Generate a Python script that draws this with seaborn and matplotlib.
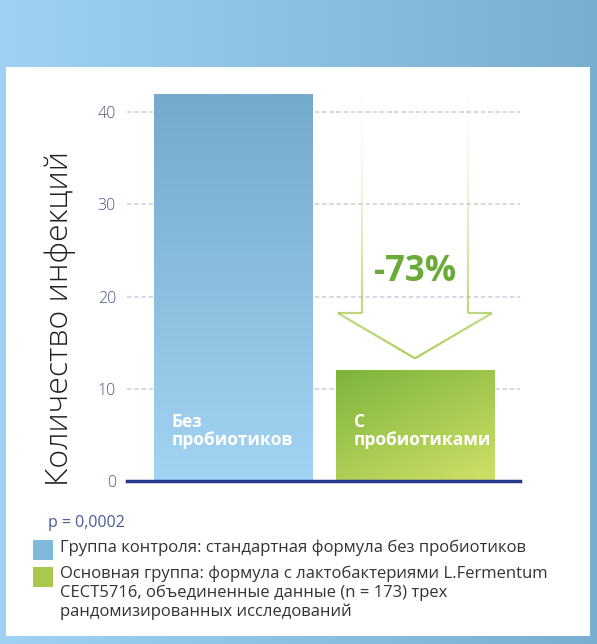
"""Infection count: control vs probiotic formula."""

import matplotlib.pyplot as plt
import numpy as np
import pandas as pd
import seaborn as sns
from matplotlib.colors import LinearSegmentedColormap
from matplotlib.patches import Rectangle

groups = ["Без\nпробиотиков", "С\nпробиотиками"]
infections = [42, 12]
reduction_label = "-73%"
y_ticks = [0, 10, 20, 30, 40]
y_label = "Количество инфекций"
p_value_text = "p = 0,0002"
legend_texts = [
    "Группа контроля: стандартная формула без пробиотиков",
    "Основная группа: формула с лактобактериями L.Fermentum\n"
    "CECT5716, объединенные данные (n = 173) трех\n"
    "рандомизированных исследований",
]
legend_colors = ["#7fb9dc", "#a9c94c"]

BAR_GRADIENTS = [("#74aacb", "#a3d3f2"), ("#7db43c", "#cfe067")]
FONT = ["Open Sans", "DejaVu Sans"]


def gradient_fill(ax, patch, top, bottom, diagonal=False):
    x0, y0 = patch.get_x(), patch.get_y()
    w, h = patch.get_width(), patch.get_height()
    cmap = LinearSegmentedColormap.from_list("g", [top, bottom])
    yy, xx = np.mgrid[0:1:100j, 0:1:100j]
    grad = yy if not diagonal else 0.6 * yy + 0.4 * xx
    img = ax.imshow(grad, cmap=cmap, extent=(x0, x0 + w, y0, y0 + h),
                    aspect="auto", origin="upper", zorder=2)
    img.set_clip_path(patch)


def main():
    sns.set_theme(style="white")
    plt.rcParams["font.family"] = FONT

    fig = plt.figure(figsize=(5.97, 6.44), dpi=100)

    # blue frame and white panel
    bg = fig.add_axes([0, 0, 1, 1])
    bg.imshow(np.linspace(0, 1, 256)[None, :],
              cmap=LinearSegmentedColormap.from_list("bg", ["#9fd2f2", "#78afd0"]),
              extent=(0, 1, 0, 1), aspect="auto")
    bg.add_patch(Rectangle((6 / 597, 8 / 644), 584 / 597, 569 / 644,
                           facecolor="white", edgecolor="none"))
    bg.set_xlim(0, 1)
    bg.set_ylim(0, 1)
    bg.axis("off")

    ax = fig.add_axes([127 / 597, 163 / 644, 393 / 597, 415 / 644])
    df = pd.DataFrame({"group": groups, "count": infections})
    sns.barplot(data=df, x="group", y="count", ax=ax, width=0.87,
                color="#8cc0e0", saturation=1, zorder=2)

    for patch, (top, bottom), diag in zip(ax.patches, BAR_GRADIENTS, [False, True]):
        gradient_fill(ax, patch, top, bottom, diagonal=diag)
        patch.set_alpha(0)

    for i, label in enumerate(groups):
        ax.text(i - 0.335, 5.4, label, color="white", fontsize=12.5,
                fontweight="bold", ha="left", va="center", linespacing=1.0,
                zorder=4)

    # arrow outline, fading to the top
    c = 1
    tip = infections[1] + 1.3
    head = tip + 4.9
    top = infections[0] - 0.2
    pts = np.array([
        [c - 0.29, top], [c - 0.29, head], [c - 0.423, head], [c, tip],
        [c + 0.423, head], [c + 0.29, head], [c + 0.29, top],
    ])
    for a, b in zip(pts[:-1], pts[1:]):
        seg = np.linspace(a, b, 60)
        for s0, s1 in zip(seg[:-1], seg[1:]):
            frac = (s0[1] - tip) / (top - tip)
            alpha = max(0.04, (1 - frac) ** 1.6)
            ax.plot([s0[0], s1[0]], [s0[1], s1[1]], color="#a3cc4e",
                    alpha=alpha, lw=1.6, solid_capstyle="butt", zorder=3)

    ax.text(c, 22.7, reduction_label, color="#6aab38", fontsize=25,
            fontweight="bold", ha="center", va="center", zorder=4)

    ax.set_xlim(-0.582, 1.577)
    ax.set_ylim(0, 45)
    ax.set_yticks(y_ticks)
    ax.set_yticklabels([str(t) for t in y_ticks], color="#4a5580", fontsize=11.5,
                       fontweight="light")
    ax.tick_params(axis="y", length=0, pad=8)
    ax.set_xticks([])
    ax.set_xlabel("")
    ax.set_ylabel("")
    for t in y_ticks[1:]:
        ax.axhline(t, color="#d0d6e2", lw=1.3, ls=(0, (2.5, 1.5)), zorder=1)
    for side in ["top", "right", "left"]:
        ax.spines[side].set_visible(False)
    ax.spines["bottom"].set_color("#27378a")
    ax.spines["bottom"].set_linewidth(2.5)
    ax.spines["bottom"].set_zorder(5)
    ax.patch.set_alpha(0)

    fig.text(60 / 597, 1 - 318 / 644, y_label, rotation=90, fontsize=23,
             color="#1e1e1e", ha="center", va="center", fontweight="light")

    fig.text(48 / 597, 1 - 523 / 644, p_value_text, fontsize=11.5,
             color="#4a5a9a", ha="left", va="center")
    ys = [550, 577]
    for y, color, text in zip(ys, legend_colors, legend_texts):
        bg.add_patch(Rectangle((33 / 597, 1 - (y + 10) / 644), 20 / 597, 20 / 644,
                               facecolor=color, edgecolor="none"))
        fig.text(60 / 597, 1 - (y - 11) / 644, text, fontsize=12, color="#333333",
                 ha="left", va="top", linespacing=1.17)

    fig.savefig("out.png", dpi=100)
    plt.close(fig)


if __name__ == "__main__":
    main()
